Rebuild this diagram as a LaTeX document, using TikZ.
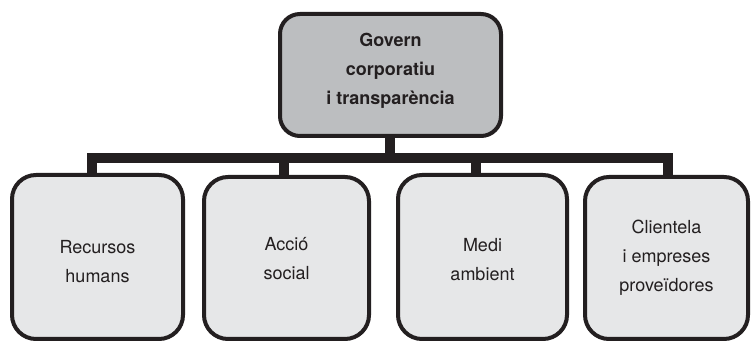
\documentclass[tikz,border=0pt]{standalone}
\usepackage{fontspec}
\setmainfont{TeX Gyre Heros}
\definecolor{ink}{HTML}{231F20}
\definecolor{lightfill}{HTML}{E6E7E8}
\definecolor{midfill}{HTML}{BCBEC0}
\begin{document}
\begin{tikzpicture}[x=1pt,y=1pt,
  box/.style={draw=ink, line width=4pt, rounded corners=24pt, fill=lightfill,
    outer sep=0pt, inner sep=0pt},
  topbox/.style={box, fill=midfill, rounded corners=20pt},
  txt/.style={align=center, text=ink, inner sep=0pt, font=\fontsize{18}{29}\selectfont},
  bus/.style={draw=ink, line width=10pt, line join=miter},
]
\useasboundingbox (0,0) rectangle (751,342);
% boxes
\node[topbox, minimum width=221pt, minimum height=122pt] (top) at (390.5,267) {};
\node[box, minimum width=171pt, minimum height=164pt] (b1) at (97.5,85) {};
\node[box, minimum width=165pt, minimum height=162pt] (b2) at (286.5,84) {};
\node[box, minimum width=169pt, minimum height=164pt] (b3) at (482.5,85) {};
\node[box, minimum width=163pt, minimum height=162pt] (b4) at (666.5,84) {};
% texts
\node[txt, font=\fontsize{18}{29}\selectfont\bfseries] (t0) at ([yshift=5.1pt]top.center)
  {\strut Govern\\\strut corporatiu\\\strut i transparència};
\node[txt] (t1) at ([yshift=-5.7pt]b1.center) {\strut Recursos\\\strut humans};
\node[txt] (t2) at ([yshift=-1.2pt]b2.center) {\strut Acció\\\strut social};
\node[txt] (t3) at ([yshift=-3.4pt]b3.center) {\strut Medi\\\strut ambient};
\node[txt] (t4) at ([yshift=1.5pt]b4.center) {\strut Clientela\\\strut i empreses\\\strut proveïdores};
% connectors
\coordinate (bus) at (390,184);
\draw[bus] ([xshift=-5.5pt]b1.north) |- (bus) -| ([xshift=1.5pt]b4.north);
\draw[bus] ([xshift=-2.5pt]b2.north) -- ([xshift=-2.5pt]b2.north |- bus);
\draw[bus] ([xshift=-6.8pt]b3.north) -- ([xshift=-6.8pt]b3.north |- bus);
\draw[bus] ([xshift=-0.5pt]top.south) -- ([xshift=-0.5pt]top.south |- bus);
\end{tikzpicture}
\end{document}
